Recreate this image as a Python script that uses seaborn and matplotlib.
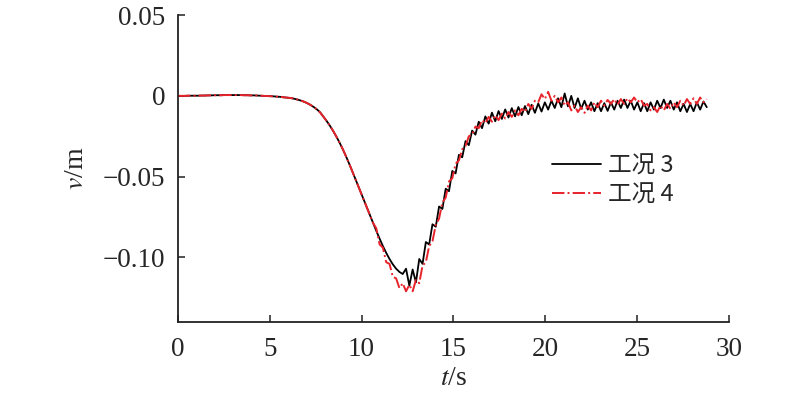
import numpy as np
import pandas as pd
import seaborn as sns
import matplotlib.pyplot as plt

# ---------------------------------------------------------
# style
# ---------------------------------------------------------
sns.set_style("ticks")
plt.rcParams['font.family'] = ['Liberation Serif', 'Noto Sans CJK SC']
plt.rcParams['mathtext.fontset'] = 'stix'
plt.rcParams['axes.unicode_minus'] = True

# ---------------------------------------------------------
# data (sampled every 0.18 s, values in mm)
# ---------------------------------------------------------
dt = 0.18
labels = ['工况 3', '工况 4']

v3_mm = [
    0.0, 0.0, 0.0, 0.1, 0.1, 0.1, 0.1, 0.2, 0.2, 0.3,
    0.3, 0.4, 0.4, 0.4, 0.5, 0.5, 0.5, 0.5, 0.5, 0.5,
    0.4, 0.4, 0.3, 0.3, 0.2, 0.1, 0.0, -0.1, -0.2, -0.3,
    -0.5, -0.6, -0.9, -1.1, -1.3, -1.7, -2.2, -2.8, -3.5, -4.4,
    -5.5, -6.8, -8.3, -10.2, -12.9, -15.6, -18.6, -21.9, -25.5, -29.4,
    -33.6, -38.2, -43.0, -48.0, -53.1, -58.2, -63.3, -68.4, -73.5, -78.6,
    -83.6, -88.4, -93.0, -97.2, -101.0, -104.3, -107.0, -109.0, -110.3, -107.0,
    -117.5, -107.5, -115.5, -101.0, -104.0, -90.5, -92.0, -79.5, -81.0, -68.5,
    -70.0, -57.5, -59.0, -46.5, -48.0, -36.5, -38.0, -28.0, -30.5, -21.5,
    -24.0, -16.0, -20.0, -12.7, -17.2, -10.4, -15.7, -9.4, -14.3, -8.4,
    -13.4, -7.6, -12.7, -6.9, -12.0, -6.3, -11.3, -5.5, -10.5, -4.7,
    -9.7, -4.0, -8.5, -3.0, -7.5, -1.5, -7.0, 1.5, -6.5, 0.0,
    -7.5, -1.5, -8.0, -3.0, -8.5, -4.0, -9.5, -4.5, -9.5, -4.5,
    -9.3, -4.0, -8.5, -3.0, -7.5, -2.3, -7.5, -3.0, -8.5, -4.0,
    -9.5, -4.5, -9.5, -4.0, -8.5, -3.0, -7.5, -2.3, -7.5, -3.0,
    -8.5, -4.0, -9.5, -5.0, -10.0, -5.0, -9.5, -4.0, -8.5, -3.5,
    -7.0,
]

v4_mm = [
    0.0, 0.0, 0.0, 0.1, 0.1, 0.1, 0.1, 0.2, 0.2, 0.3,
    0.3, 0.4, 0.4, 0.4, 0.5, 0.5, 0.5, 0.5, 0.5, 0.5,
    0.4, 0.4, 0.3, 0.3, 0.2, 0.1, 0.0, -0.1, -0.2, -0.3,
    -0.5, -0.6, -0.9, -1.1, -1.3, -1.7, -2.2, -2.8, -3.5, -4.4,
    -5.5, -6.8, -8.3, -10.2, -12.9, -15.6, -18.6, -21.9, -25.5, -29.4,
    -33.6, -38.2, -43.0, -48.0, -53.1, -58.2, -63.3, -68.4, -73.5, -78.6,
    -82.0, -92.0, -94.0, -103.0, -104.0, -112.0, -113.0, -119.0, -116.0, -121.0,
    -117.0, -121.0, -114.0, -116.0, -105.0, -103.0, -93.0, -90.0, -80.0, -76.0,
    -66.0, -63.0, -53.0, -51.0, -42.0, -40.0, -33.0, -31.0, -25.0, -24.0,
    -19.0, -20.0, -15.0, -17.0, -13.0, -16.0, -12.0, -15.0, -11.0, -14.0,
    -10.0, -13.0, -9.0, -12.0, -8.0, -10.0, -5.0, -8.0, -3.0, -4.0,
    1.0, -2.0, 2.5, -3.0, 0.0, -4.0, -1.0, -6.0, -4.0, -9.0,
    -6.0, -10.0, -7.0, -10.5, -6.0, -9.0, -4.0, -7.0, -3.0, -6.0,
    -2.5, -5.0, -2.0, -5.5, -2.0, -5.0, -1.5, -4.0, -1.0, -4.0,
    -2.0, -6.0, -5.0, -9.0, -7.0, -10.0, -6.0, -9.0, -5.0, -8.0,
    -4.0, -7.0, -3.0, -6.0, -2.0, -5.0, -1.5, -5.0, -1.0, -4.0,
    -2.0,
]

t = np.arange(len(v3_mm)) * dt
df = pd.DataFrame({'t': t, 'v3': np.array(v3_mm) / 1000, 'v4': np.array(v4_mm) / 1000})

xticks = [0, 5, 10, 15, 20, 25, 30]
yticks = [0.05, 0, -0.05, -0.10]
ytick_labels = ['0.05', '0', '\u22120.05', '\u22120.10']

# ---------------------------------------------------------
# plot
# ---------------------------------------------------------
fig = plt.figure(figsize=(8, 3.98), dpi=100)
ax = fig.add_axes([0.2225, 0.191, 0.6885, 0.771])

sns.lineplot(data=df, x='t', y='v3', color='black', linewidth=1.3, label=labels[0], ax=ax)
sns.lineplot(data=df, x='t', y='v4', color='#e8232b', linewidth=1.4, linestyle='-.',
             label=labels[1], ax=ax)

ax.set_xlim(0, 30)
ax.set_ylim(-0.14, 0.05)
ax.set_xticks(xticks)
ax.set_yticks(yticks)
ax.set_yticklabels(ytick_labels)
ax.tick_params(direction='in', length=5, width=1.1, labelsize=19.5, color='#222222')
ax.tick_params(axis='y', pad=9)
ax.tick_params(axis='x', pad=11)

for side in ['top', 'right']:
    ax.spines[side].set_visible(False)
for side in ['left', 'bottom']:
    ax.spines[side].set_linewidth(1.3)
    ax.spines[side].set_color('#222222')

ax.set_xlabel('$t$/s', fontsize=20, labelpad=3)
ax.set_ylabel('$v$/m', fontsize=20, labelpad=10)

ax.legend(loc='upper left', bbox_to_anchor=(0.64, 0.615), frameon=False,
          prop={'family': ['Noto Sans CJK SC'], 'size': 17},
          handlelength=2.1, handletextpad=0.3, labelspacing=0.25)

fig.savefig('out.png', dpi=100)
